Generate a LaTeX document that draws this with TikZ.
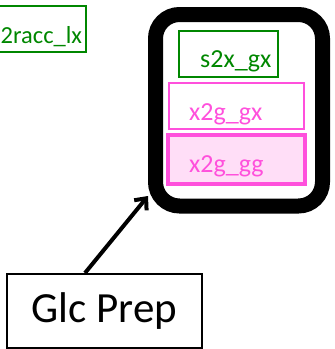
\documentclass[tikz,border=0pt]{standalone}
\usepackage{fontspec}
\setmainfont{Carlito}
\usetikzlibrary{arrows.meta}
\definecolor{dgreen}{RGB}{0,135,0}
\definecolor{pinkline}{RGB}{255,80,220}
\definecolor{pinkfill}{RGB}{255,222,247}
\tikzset{
  lbl/.style={anchor=base west, inner sep=0pt, font=\fontsize{26}{30}\selectfont},
  bigbox/.style={draw=black, line width=15pt, rounded corners=24pt},
}
\begin{document}
\begin{tikzpicture}[x=1pt,y=-1pt]
\useasboundingbox (0,0) rectangle (335,349);
% top-left green box (clipped)
\draw[dgreen, line width=1.8pt] (-10,6) rectangle (86,52);
\node[lbl, text=dgreen, font=\fontsize{24.5}{28}\selectfont] (racc) at (0.5,43) {2racc\_lx};
% big rounded box
\draw[bigbox] (155.5,14.5) rectangle (322.5,206);
\coordinate (bigcorner) at (148,196);
% inner boxes
\draw[dgreen, line width=1.8pt] (179,31) rectangle (278,77);
\node[lbl, text=dgreen] (s2x) at (200,67) {s2x\_gx};
\draw[pinkline, line width=1.8pt] (169,83) rectangle (304,129);
\node[lbl, text=pinkline] (x2ggx) at (189,120) {x2g\_gx};
\draw[pinkline, fill=pinkfill, line width=4pt] (168,135) rectangle (305,184);
\node[lbl, text=pinkline] (x2ggg) at (189,172) {x2g\_gg};
% Glc Prep box
\node[draw=black, line width=1.6pt, minimum width=195pt, minimum height=74pt, inner sep=0pt,
      font=\fontsize{43}{50}\selectfont] (glc) at (104.5,311) {Glc Prep};
\draw[line width=4pt, -{Straight Barb[length=9pt,width=16pt,line width=4pt]}] (85,273) -- (bigcorner);
\end{tikzpicture}
\end{document}
